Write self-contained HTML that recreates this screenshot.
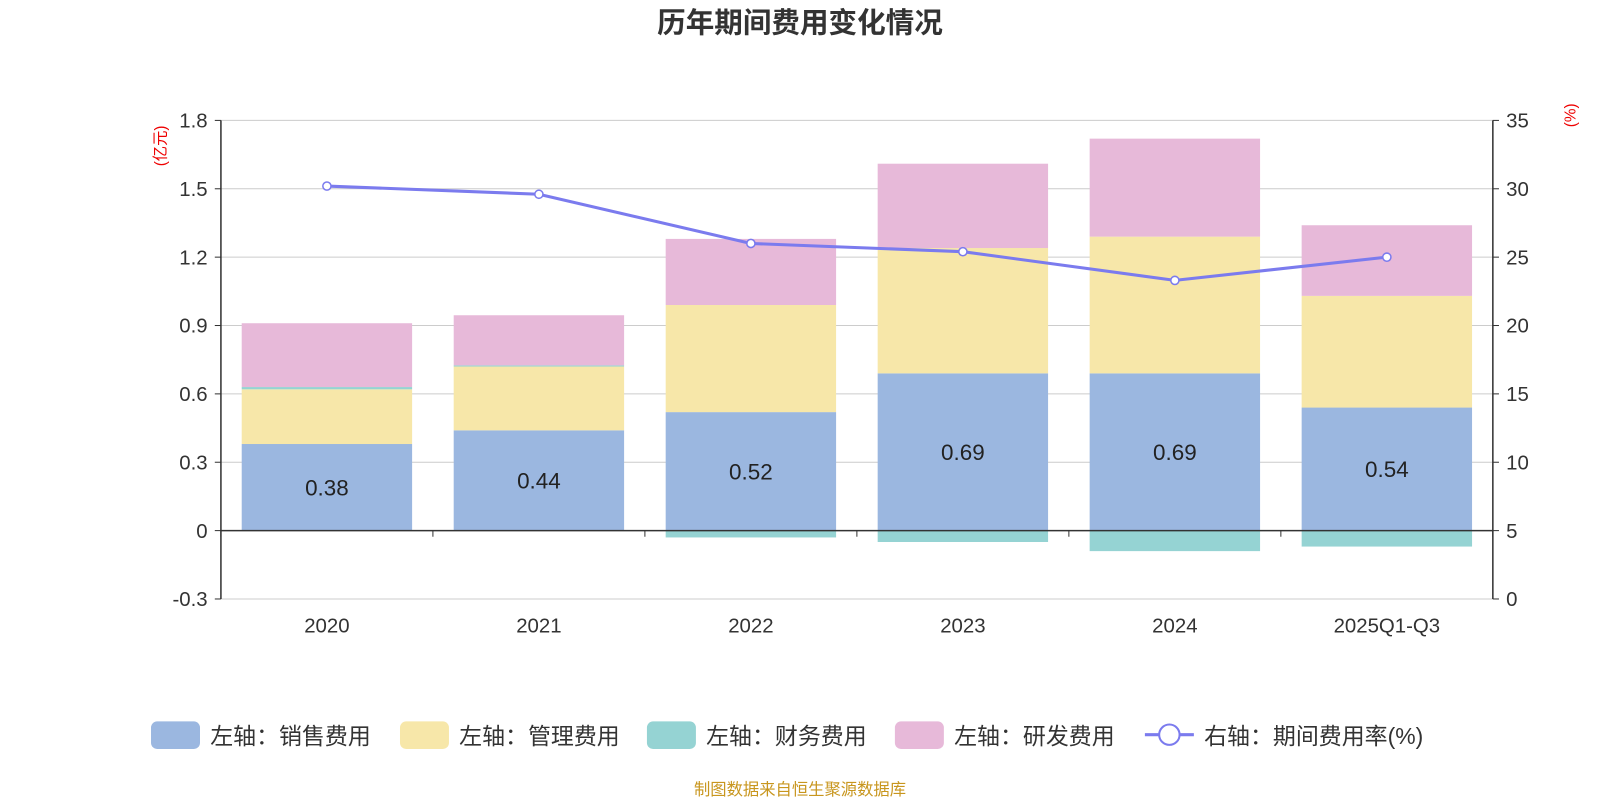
<!DOCTYPE html>
<html><head><meta charset="utf-8"><style>
body{margin:0;background:#fff;font-family:"Liberation Sans","Noto Sans CJK SC",sans-serif;}
svg text{font-family:"Liberation Sans","Noto Sans CJK SC",sans-serif;}
</style></head><body>
<svg id="c" width="1600" height="800" xmlns="http://www.w3.org/2000/svg">
<g transform="scale(1.0204)">
<text x="784" y="32" text-anchor="middle" font-size="28" font-weight="bold" fill="#333">历年期间费用变化情况</text>
<text transform="translate(162,143) rotate(-90)" text-anchor="middle" font-size="15" fill="#e00">(亿元)</text>
<text transform="translate(1544,113) rotate(-90)" text-anchor="middle" font-size="15" fill="#e00">(%)</text>
<g id="grid"></g><g id="bars"></g><g id="axes"></g><g id="line"></g>
<g id="legend" font-size="22.5" fill="#333">
<rect x="148" y="707" width="48" height="27" rx="6" fill="#9bb7e0"/>
<text x="206" y="729">左轴：销售费用</text>
<rect x="392" y="707" width="48" height="27" rx="6" fill="#f7e7a9"/>
<text x="450" y="729">左轴：管理费用</text>
<rect x="634" y="707" width="48" height="27" rx="6" fill="#95d3d3"/>
<text x="692" y="729">左轴：财务费用</text>
<rect x="877" y="707" width="48" height="27" rx="6" fill="#e7b9d9"/>
<text x="935" y="729">左轴：研发费用</text>
<line x1="1122" y1="720" x2="1170" y2="720" stroke="#7b7bee" stroke-width="3"/>
<circle cx="1146" cy="720" r="10" fill="#fff" stroke="#7b7bee" stroke-width="2"/>
<text x="1180" y="729">右轴：期间费用率(%)</text>
</g>
<text x="784" y="779" text-anchor="middle" font-size="16" fill="#c8961e">制图数据来自恒生聚源数据库</text>
</g>
</svg>
<script>
const categories=["2020","2021","2022","2023","2024","2025Q1-Q3"];
const sales=[0.38,0.44,0.52,0.69,0.69,0.54];
const admin=[0.24,0.28,0.47,0.55,0.60,0.49];
const finance=[0.01,0.005,-0.03,-0.05,-0.09,-0.07];
const rd=[0.28,0.22,0.29,0.37,0.43,0.31];
const rate=[30.2,29.6,26.0,25.4,23.3,25.0];
const leftTicks=[-0.3,0,0.3,0.6,0.9,1.2,1.5,1.8];
const rightTicks=[0,5,10,15,20,25,30,35];
const NS="http://www.w3.org/2000/svg";
const X0=216.5,X1=1463,band=(X1-X0)/categories.length;
const yL=v=>520-v*(402/1.8);
const yR=v=>587-v*(469/35);
const xC=i=>X0+band*(i+0.5);
function mk(t,a,p){const e=document.createElementNS(NS,t);for(const k in a)e.setAttribute(k,a[k]);p.appendChild(e);return e;}
const G=document.getElementById('grid'),B=document.getElementById('bars'),A=document.getElementById('axes'),L=document.getElementById('line');
leftTicks.forEach((v,i)=>{
 const gl=mk('line',{x1:X0,x2:X1,y1:yL(v),y2:yL(v),stroke:'#ccc','stroke-width':1},G);
 
 
 const t=mk('text',{x:X0-13,y:yL(v)+7,'text-anchor':'end','font-size':20,fill:'#333'},A);t.textContent=v===0?'0':v.toFixed(1);
 
 
 mk('line',{x1:X0-6,x2:X0,y1:yL(v),y2:yL(v),stroke:'#333'},A);
});
rightTicks.forEach(v=>{
 const t=mk('text',{x:X1+13,y:yR(v)+7,'font-size':20,fill:'#333'},A);t.textContent=v;
 
 
 mk('line',{x1:X1,x2:X1+6,y1:yR(v),y2:yR(v),stroke:'#333'},A);
});
mk('line',{x1:X0,x2:X0,y1:yL(1.8),y2:yL(-0.3),stroke:'#333','stroke-width':1.5},A);
mk('line',{x1:X1,x2:X1,y1:yR(35),y2:yR(0),stroke:'#333','stroke-width':1.5},A);
mk('line',{x1:X0,x2:X1,y1:yL(0),y2:yL(0),stroke:'#333','stroke-width':1.5},A);
for(let i=0;i<=categories.length;i++)mk('line',{x1:X0+band*i,x2:X0+band*i,y1:yL(0),y2:yL(0)+6,stroke:'#333'},A);
const bw=167;
categories.forEach((c,i)=>{
 const x=xC(i)-bw/2;let pos=0,neg=0;
 const segs=[[sales[i],'#9bb7e0','bar-sales'],[admin[i],'#f7e7a9','bar-admin'],[finance[i],'#95d3d3','bar-finance'],[rd[i],'#e7b9d9','bar-rd']];
 segs.forEach(s=>{
  let a,b;if(s[0]>=0){a=pos;b=pos+s[0];pos=b;}else{a=neg;b=neg+s[0];neg=b;}
  const r=mk('rect',{x:x,width:bw,y:Math.min(yL(a),yL(b)),height:Math.abs(yL(a)-yL(b)),fill:s[1]},B);
  
  
 });
 const t=mk('text',{x:xC(i),y:yL(sales[i]/2)+8,'text-anchor':'middle','font-size':22,fill:'#222'},B);t.textContent=sales[i].toFixed(2);
 
 
 const ct=mk('text',{x:xC(i),y:620,'text-anchor':'middle','font-size':20,fill:'#333'},A);ct.textContent=c;
 
 
});
const pl=mk('polyline',{points:rate.map((v,i)=>xC(i)+','+yR(v)).join(' '),fill:'none',stroke:'#7b7bee','stroke-width':3},L);


rate.forEach((v,i)=>{
 const p=mk('circle',{cx:xC(i),cy:yR(v),r:4,fill:'#fff',stroke:'#7b7bee','stroke-width':1.5},L);
 
 
});
</script>
</body></html>
